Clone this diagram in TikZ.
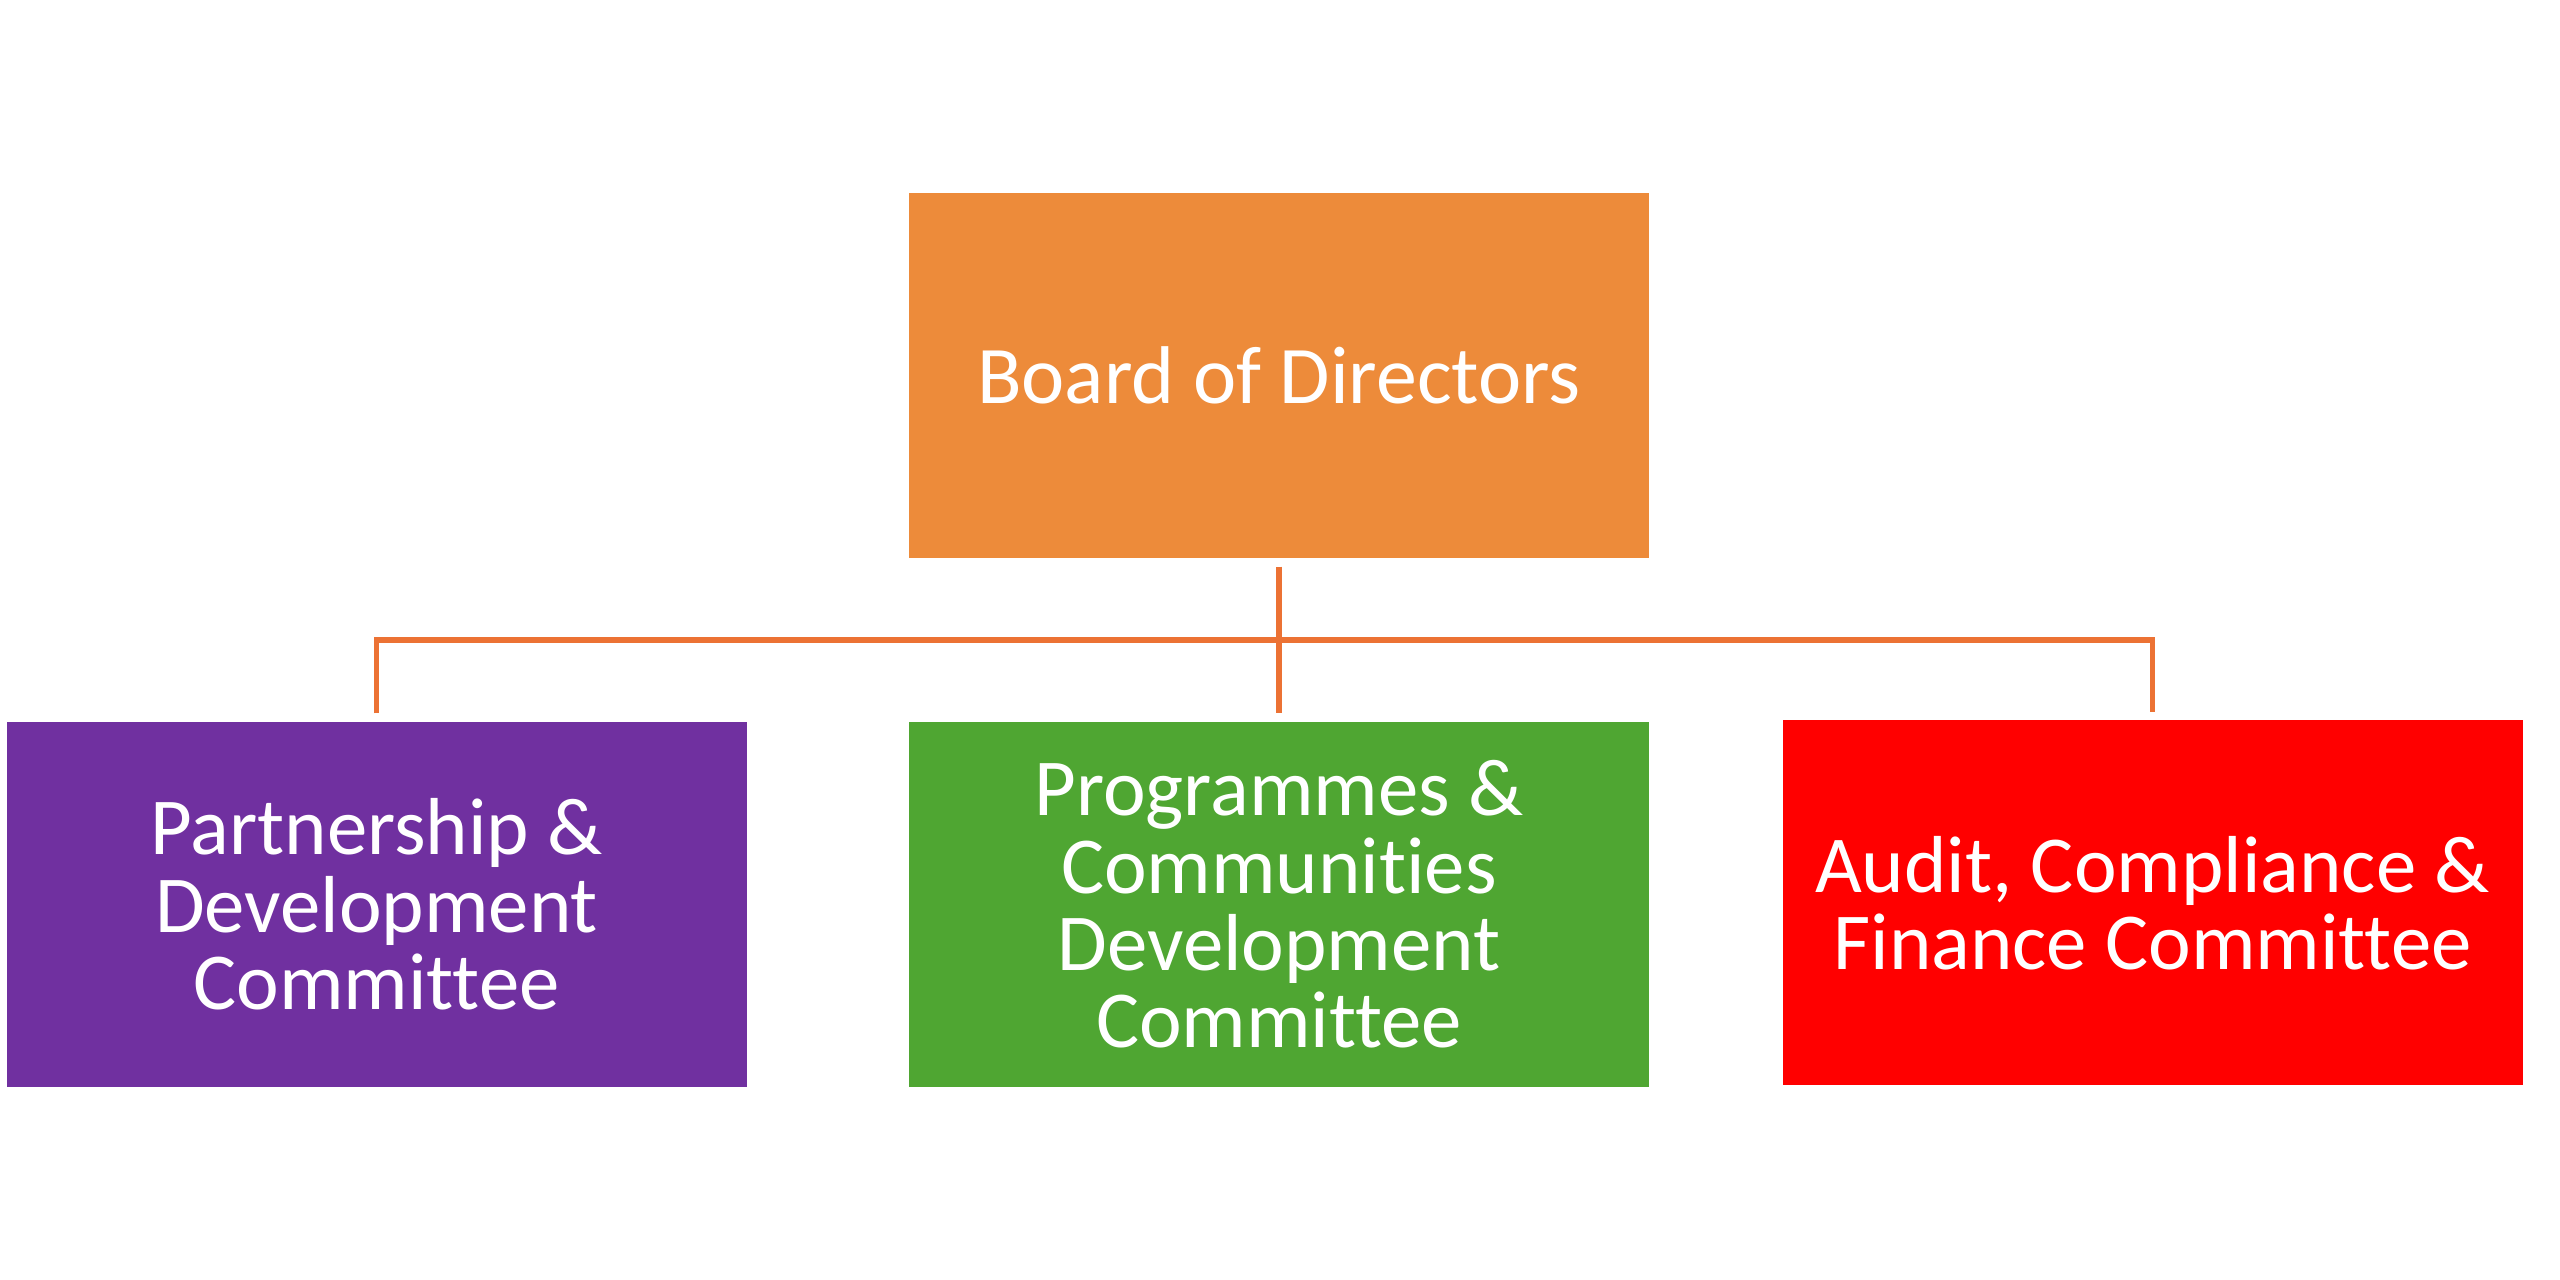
\documentclass[tikz,border=0pt]{standalone}
\usepackage{fontspec}
\setmainfont{Carlito}[Ligatures=NoCommon]
\definecolor{boardorange}{HTML}{ED8B3A}
\definecolor{linkorange}{HTML}{EC7234}
\definecolor{partpurple}{HTML}{7030A0}
\definecolor{proggreen}{HTML}{4FA632}
\definecolor{auditred}{HTML}{FF0000}
\tikzset{Box/.style = {minimum width=7.4cm, minimum height=3.65cm, align=center,
    text=white, inner sep=0pt, font=\fontsize{23}{22}\selectfont},
  Link/.style = {draw=linkorange, line width=1.5pt, shorten <=0.08cm, shorten >=0.08cm}}

\begin{document}
\begin{tikzpicture}
\useasboundingbox (0,0) rectangle (25.6,12.8);
\node[Box,fill=boardorange,font=\fontsize{23.3}{23}\selectfont] (board) at (12.79,9.045) {Board of Directors};
\node[Box,fill=partpurple] (part) at (3.765,3.755) {Partnership \&\\Development\\Committee};
\node[Box,fill=proggreen] (prog) at (12.79,3.755) {Programmes \&\\Communities\\Development\\Committee};
\node[Box,fill=auditred] (audit) at (21.525,3.77) {Audit, Compliance \&\\Finance Committee};
\coordinate (bus) at (12.79,6.40);
\draw[Link] (board) -- (prog);
\draw[Link] (part) |- (bus) -| (audit);
\end{tikzpicture}
\end{document}
